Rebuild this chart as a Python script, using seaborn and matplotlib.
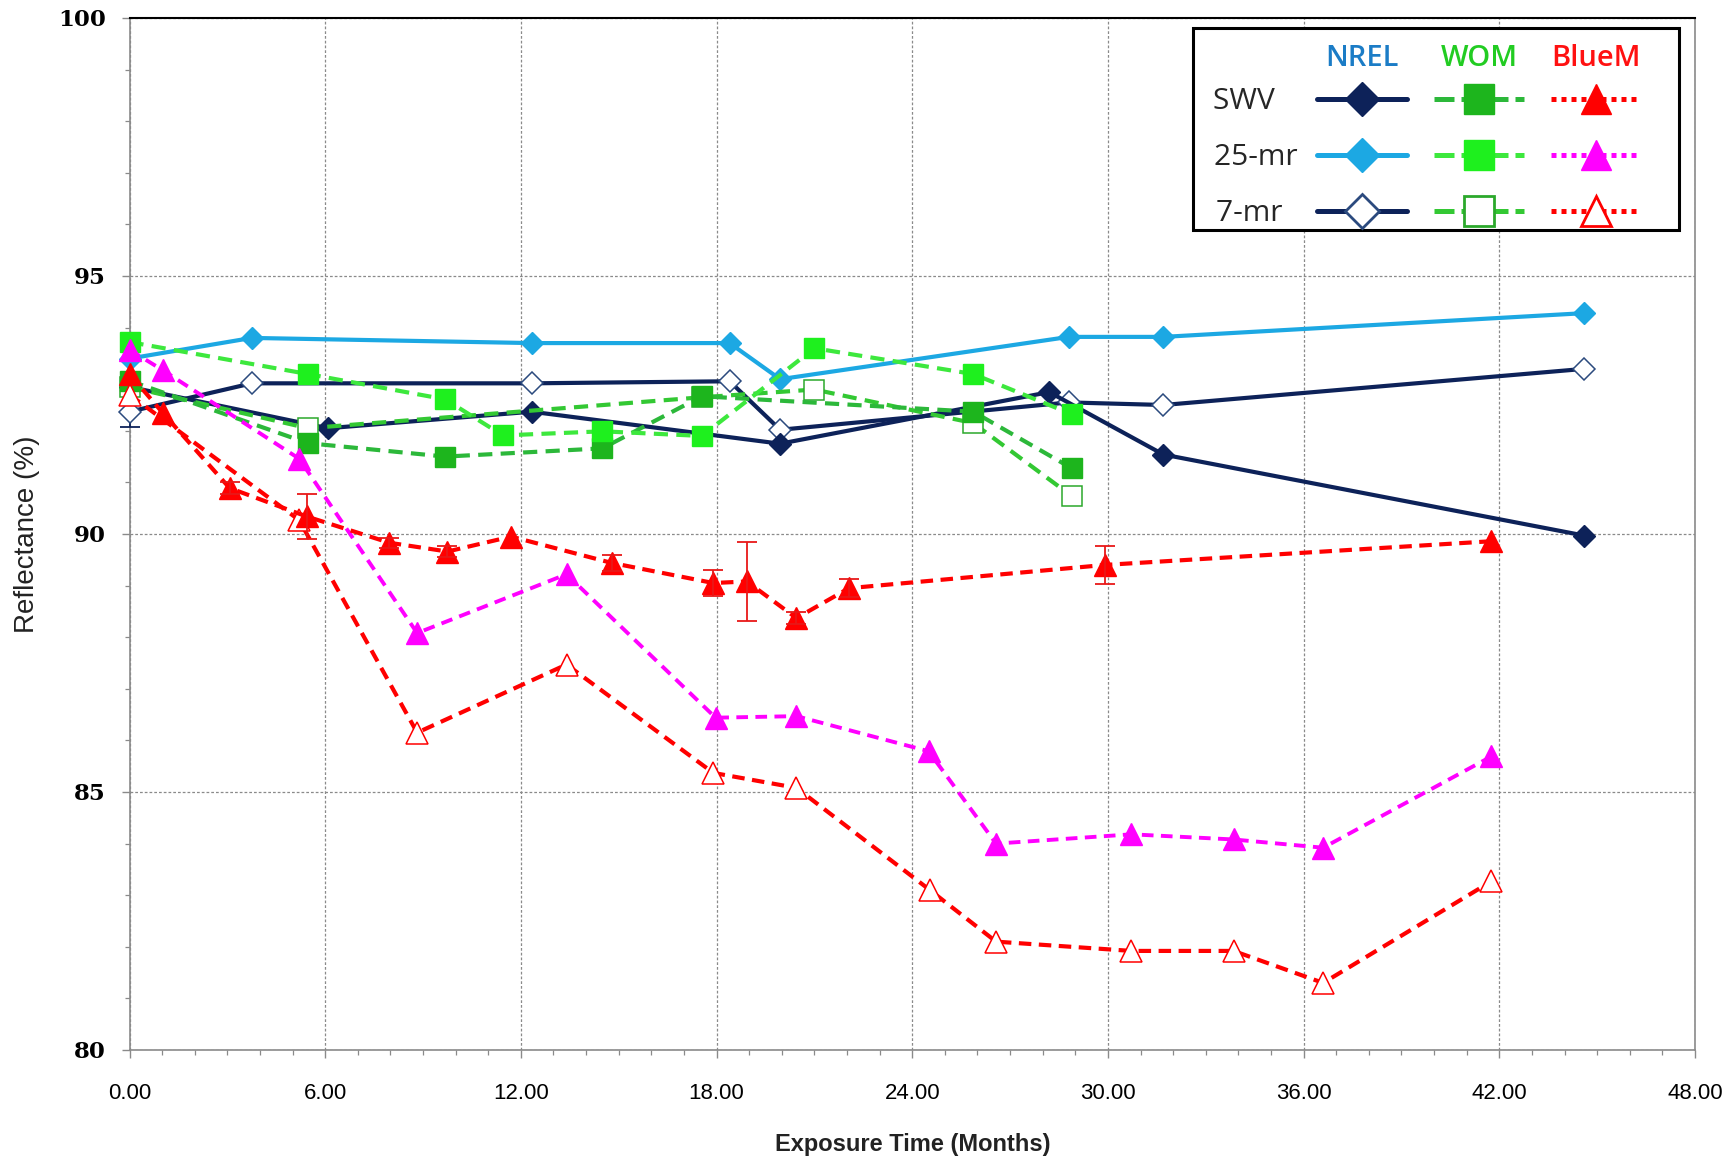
import matplotlib
matplotlib.use("Agg")
import matplotlib.pyplot as plt
from matplotlib.lines import Line2D
from matplotlib.patches import Rectangle
from matplotlib.ticker import MultipleLocator, FormatStrFormatter
import numpy as np
import seaborn as sns

# ---------------- data ----------------
nrel_swv_t = [0, 6.08, 12.33, 19.95, 28.2, 31.7, 44.6]
nrel_swv_r = [92.85, 92.05, 92.37, 91.75, 92.75, 91.54, 89.97]

nrel_25_t = [0, 3.75, 12.33, 18.4, 19.95, 28.8, 31.7, 44.6]
nrel_25_r = [93.4, 93.8, 93.7, 93.7, 93.0, 93.82, 93.82, 94.28]

nrel_7_t = [0, 3.75, 12.33, 18.4, 19.95, 28.8, 31.7, 44.6]
nrel_7_r = [92.37, 92.92, 92.92, 92.96, 92.02, 92.55, 92.5, 93.2]
nrel_7_err = [0.3, 0, 0, 0, 0, 0, 0, 0]

wom_swv_t = [0, 5.47, 9.68, 14.5, 17.55, 25.87, 28.9]
wom_swv_r = [92.97, 91.76, 91.5, 91.66, 92.67, 92.37, 91.27]

wom_25_t = [0, 5.47, 9.68, 11.45, 14.5, 17.55, 21.0, 25.87, 28.9]
wom_25_r = [93.72, 93.1, 92.61, 91.91, 91.99, 91.9, 93.6, 93.1, 92.32]

wom_7_t = [0, 5.47, 17.55, 21.0, 25.87, 28.9]
wom_7_r = [92.85, 92.05, 92.65, 92.8, 92.15, 90.73]

bluem_swv_t = [0, 1.03, 3.07, 5.43, 7.97, 9.75, 11.7, 14.78, 17.9, 18.93,
               20.45, 22.06, 29.9, 41.76]
bluem_swv_r = [93.1, 92.34, 90.89, 90.34, 89.83, 89.66, 89.95, 89.44, 89.05,
               89.08, 88.37, 88.95, 89.4, 89.86]
bluem_swv_err = [0, 0, 0.12, 0.43, 0.1, 0.1, 0, 0.15, 0.26, 0.76, 0.12, 0.18,
                 0.37, 0]

bluem_25_t = [0, 1.03, 5.2, 8.82, 13.4, 17.97, 20.45, 24.5, 26.57, 30.72,
              33.85, 36.6, 41.76]
bluem_25_r = [93.57, 93.17, 91.46, 88.08, 89.22, 86.44, 86.47, 85.79, 84.0,
              84.18, 84.08, 83.92, 85.69]

bluem_7_t = [0, 5.2, 8.82, 13.4, 17.9, 20.45, 24.54, 26.57, 30.72, 33.85,
             36.6, 41.76]
bluem_7_r = [92.7, 90.27, 86.15, 87.47, 85.37, 85.08, 83.1, 82.1, 81.92,
             81.92, 81.3, 83.27]

row_labels = ["SWV", "25-mr", "7-mr"]
col_labels = ["NREL", "WOM", "BlueM"]
x_label = "Exposure Time (Months)"
y_label = "Reflectance (%)"

# ---------------- styles ----------------
NAVY = "#0d2259"
LBLUE = "#1ca8e3"
OPEN_D = "#2b4a7e"
WOM_D_LINE, WOM_D_FILL = "#2cb83a", "#1db51d"
WOM_B_LINE, WOM_B_FILL = "#3de83d", "#1ef01e"
WOM_O_LINE, WOM_O_EDGE = "#33c833", "#2ba82b"
RED = "#ff0000"
MAG = "#ff00ff"

sns.set_theme(style="white")
plt.rcParams["font.family"] = ["Liberation Sans Narrow", "Liberation Sans", "DejaVu Sans"]

fig = plt.figure(figsize=(17.32, 11.59), dpi=100)
ax = fig.add_axes([0.07477, 0.09405, 0.90387, 0.89042])

dash_g = (0, (3.4, 2.0))
dash_r = (0, (3.0, 1.8))
dash_m = (0, (3.0, 1.9))

st_nrel_swv = dict(color=NAVY, linestyle="-", linewidth=3.0, marker="D", markersize=11,
                   markerfacecolor=NAVY, markeredgecolor=NAVY, markeredgewidth=1)
st_nrel_25 = dict(color=LBLUE, linestyle="-", linewidth=3.0, marker="D", markersize=11,
                  markerfacecolor=LBLUE, markeredgecolor=LBLUE, markeredgewidth=1)
st_nrel_7 = dict(color=NAVY, linestyle="-", linewidth=3.0, marker="D", markersize=11,
                 markerfacecolor="white", markeredgecolor=OPEN_D, markeredgewidth=1.1)
st_wom_swv = dict(color=WOM_D_LINE, linestyle=dash_g, linewidth=3.0, marker="s",
                  markersize=14, markerfacecolor=WOM_D_FILL, markeredgecolor=WOM_D_FILL,
                  markeredgewidth=1)
st_wom_25 = dict(color=WOM_B_LINE, linestyle=dash_g, linewidth=3.0, marker="s",
                 markersize=14, markerfacecolor=WOM_B_FILL, markeredgecolor=WOM_B_FILL,
                 markeredgewidth=1)
st_wom_7 = dict(color=WOM_O_LINE, linestyle=dash_g, linewidth=3.0, marker="s",
                markersize=14, markerfacecolor="white", markeredgecolor=WOM_O_EDGE,
                markeredgewidth=1.1)
st_b_swv = dict(color=RED, linestyle=dash_r, linewidth=3.0, marker="^", markersize=16,
                markerfacecolor=RED, markeredgecolor=RED, markeredgewidth=1)
st_b_25 = dict(color=MAG, linestyle=dash_m, linewidth=2.8, marker="^", markersize=16,
               markerfacecolor=MAG, markeredgecolor=MAG, markeredgewidth=1)
st_b_7 = dict(color=RED, linestyle=dash_r, linewidth=3.0, marker="^", markersize=16,
              markerfacecolor="white", markeredgecolor=RED, markeredgewidth=1.1)

# drawing order (later = on top)
series = [
    (nrel_7_t, nrel_7_r, st_nrel_7),
    (nrel_swv_t, nrel_swv_r, st_nrel_swv),
    (nrel_25_t, nrel_25_r, st_nrel_25),
    (wom_7_t, wom_7_r, st_wom_7),
    (wom_swv_t, wom_swv_r, st_wom_swv),
    (wom_25_t, wom_25_r, st_wom_25),
    (bluem_7_t, bluem_7_r, st_b_7),
    (bluem_25_t, bluem_25_r, st_b_25),
    (bluem_swv_t, bluem_swv_r, st_b_swv),
]

for i, (t, r, st) in enumerate(series):
    sns.lineplot(x=t, y=r, ax=ax, sort=False, errorbar=None, clip_on=False,
                 zorder=4 + i * 0.1, legend=False, **st)

# error bars
t_arr, r_arr, e_arr = map(np.asarray, (bluem_swv_t, bluem_swv_r, bluem_swv_err))
m = e_arr > 0
ax.errorbar(t_arr[m], r_arr[m], yerr=e_arr[m], fmt="none", ecolor="#e81818",
            elinewidth=1.3, capsize=7, capthick=1.3, zorder=5, clip_on=False)
t_arr, r_arr, e_arr = map(np.asarray, (nrel_7_t, nrel_7_r, nrel_7_err))
m = e_arr > 0
ax.errorbar(t_arr[m], r_arr[m], yerr=e_arr[m], fmt="none", ecolor=NAVY,
            elinewidth=1.3, capsize=7, capthick=1.3, zorder=3.9, clip_on=False)

# ---------------- axes ----------------
ax.set_xlim(0, 48)
ax.set_ylim(80, 100)
ax.xaxis.set_major_locator(MultipleLocator(6))
ax.xaxis.set_minor_locator(MultipleLocator(1))
ax.xaxis.set_major_formatter(FormatStrFormatter("%.2f"))
ax.yaxis.set_major_locator(MultipleLocator(5))
ax.yaxis.set_minor_locator(MultipleLocator(1))

GRID = "#8a8a8a"
ax.grid(True, which="major", color=GRID, linestyle=(0, (2.2, 1.6)), linewidth=0.9)
ax.grid(False, which="minor")
ax.set_axisbelow(True)

ax.tick_params(axis="both", which="major", direction="out", length=6, width=1,
               color=GRID, bottom=True, left=True)
ax.tick_params(axis="both", which="minor", direction="out", length=3.5, width=0.9,
               color=GRID, bottom=True, left=True)
ax.tick_params(axis="y", which="major", pad=11, labelsize=16.5, labelcolor="black")
ax.tick_params(axis="x", which="major", pad=18, labelsize=16, labelcolor="black")
for lbl in ax.get_yticklabels():
    lbl.set_fontfamily("DejaVu Serif")
    lbl.set_fontweight("bold")

for side in ("left", "bottom", "right"):
    ax.spines[side].set_color(GRID)
    ax.spines[side].set_linewidth(1.2)
ax.spines["top"].set_color("black")
ax.spines["top"].set_linewidth(1.5)

ax.set_xlabel(x_label, fontsize=17, fontweight="bold", color="#222222")
ax.xaxis.set_label_coords(0.5, -0.08)
ax.set_ylabel(y_label, fontsize=20, color="#222222")
ax.yaxis.set_label_coords(-0.057, 0.5)

# ---------------- legend ----------------
# box drawn as a frame patch, legend entries placed inside it
ax.add_patch(Rectangle((0.6793, 0.7948), 0.9898 - 0.6793, 0.9907 - 0.7948,
                       transform=ax.transAxes, facecolor="white", edgecolor="black",
                       linewidth=2.2, zorder=9, clip_on=False))


def handle(st, ls, lw, ms):
    return Line2D([], [], color=st["color"], linestyle=ls, linewidth=lw,
                  marker=st["marker"], markersize=ms,
                  markerfacecolor=st["markerfacecolor"],
                  markeredgecolor=st["markeredgecolor"],
                  markeredgewidth=2.0 if st["markerfacecolor"] == "white" else 1)


wdash = (0, (4, 1.4))
dots = (0, (1, 1))
handles = [
    handle(st_nrel_swv, "-", 3.6, 17), handle(st_nrel_25, "-", 3.6, 17),
    handle(st_nrel_7, "-", 3.6, 17),
    handle(st_wom_swv, wdash, 3.6, 22), handle(st_wom_25, wdash, 3.6, 22),
    handle(st_wom_7, wdash, 3.6, 21),
    handle(st_b_swv, dots, 3.6, 22), handle(st_b_25, dots, 3.6, 22),
    handle(st_b_7, dots, 3.6, 21),
]
# trailing spaces keep the row labels left aligned
labels = [row_labels[0] + "    ", row_labels[1] + " ", row_labels[2] + "   "] + [""] * 6

leg = ax.legend(handles, labels, ncol=3, loc="upper right",
                bbox_to_anchor=(0.9655, 0.9328), borderaxespad=0,
                markerfirst=False, frameon=False, handlelength=3.0,
                handletextpad=0.4, columnspacing=0.52, labelspacing=0.9,
                borderpad=0, prop={"family": ["Open Sans", "DejaVu Sans"], "size": 21.5})
leg.set_zorder(10)

fig.canvas.draw()
renderer = fig.canvas.get_renderer()
head_colors = ["#1b7cc6", "#22cc22", "#ff1111"]
for i, (name, col) in enumerate(zip(col_labels, head_colors)):
    hb = leg.legend_handles[3 * i].get_window_extent(renderer)
    xc = (hb.x0 + hb.x1) / 2 / fig.bbox.width
    fig.text(xc, 1 - 58 / 1159, name, ha="center", va="center", color=col, fontsize=21,
             fontweight="semibold", family=["Open Sans", "DejaVu Sans"], zorder=11)

fig.savefig("out.png", dpi=100, facecolor="white")
